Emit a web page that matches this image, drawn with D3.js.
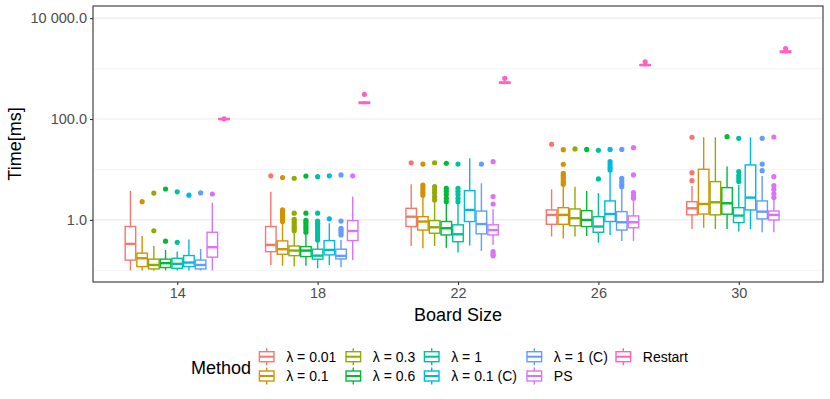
<!DOCTYPE html>
<html><head><meta charset="utf-8">
<script src="https://cdn.jsdelivr.net/npm/d3@7"></script>
<style>
body{margin:0;background:#fff;}
text{font-family:"Liberation Sans",Arial,Helvetica,sans-serif;}
</style></head>
<body><svg id="c" width="830" height="399"></svg>
<script>
// ---- data ----
const boardSizes = ["14","18","22","26","30"];
const methods = ["λ = 0.01","λ = 0.1","λ = 0.3","λ = 0.6","λ = 1","λ = 0.1 (C)","λ = 1 (C)","PS","Restart"];
const colors = ["#F8766D","#D39200","#93AA00","#00BA38","#00C19F","#00B9E3","#619CFF","#DB72FB","#FF61C3"];
const yTicks = [1, 100, 10000];
const yMinor = [0.1, 10, 1000];
// [lower whisker, q1, median, q3, upper whisker] per board size
const lam001 = [[0.10,0.16,0.335,0.74,3.75],[0.128,0.235,0.32,0.74,3.6],[0.305,0.74,1.16,1.7,5.1],[0.47,0.82,1.26,1.58,4.05],[0.66,1.26,1.7,2.3,4.7]];
const lam01 = [[0.1,0.119,0.174,0.22,0.48],[0.123,0.209,0.263,0.384,0.86],[0.275,0.63,0.93,1.16,2.9],[0.43,0.82,1.26,1.75,4.9],[0.7,1.31,2.07,10.1,43.5]];
const lam03 = [[0.1,0.107,0.128,0.167,0.305],[0.119,0.196,0.247,0.305,0.586],[0.305,0.545,0.716,0.97,2.3],[0.47,0.77,1.08,1.65,4.57],[0.66,1.26,2.24,5.75,43.5]];
const lam06 = [[0.1,0.114,0.139,0.167,0.255],[0.123,0.188,0.247,0.296,0.545],[0.28,0.505,0.684,0.93,2.14],[0.48,0.74,1.0,1.53,3.75],[0.66,1.3,2.14,4.37,11.4]];
const lam1 = [[0.1,0.11,0.135,0.174,0.236],[0.11,0.167,0.196,0.263,0.37],[0.225,0.37,0.52,0.8,2.14],[0.355,0.57,0.74,1.16,3.4],[0.59,0.885,1.22,1.75,4.9]];
const lam01C = [[0.1,0.119,0.143,0.197,0.41],[0.128,0.203,0.255,0.39,0.86],[0.31,0.93,1.58,3.8,16.7],[0.505,0.93,1.31,2.38,9.06],[0.66,1.58,2.77,12.3,43.5]];
const lam1C = [[0.1,0.107,0.128,0.16,0.267],[0.116,0.169,0.194,0.263,0.40],[0.243,0.53,0.83,1.5,5.3],[0.384,0.63,0.9,1.46,4.24],[0.57,1.05,1.46,2.38,7.4]];
const ps = [[0.1,0.183,0.288,0.57,2.2],[0.16,0.39,0.605,0.97,2.9],[0.32,0.505,0.63,0.8,1.63],[0.384,0.7,0.9,1.2,2.49],[0.57,1.0,1.26,1.5,2.49]];
const restart = [[95,98,100,102,106],[195,203,210,217,225],[490,510,525,540,560],[1100,1150,1175,1200,1250],[1950,2070,2150,2230,2350]];
// outliers per board size
const lam001Out = [[],[7.5],[13.6],[31.6],[6.0,8.65,43.5]];
const lam01Out = [[2.3],[0.93,1.0,1.1,1.2,1.3,1.45,1.58,6.9],[3.1,3.5,3.9,4.4,4.9,12.8],[5.1,5.6,6.2,6.9,7.6,8.4,12.7,24.7],[]];
const lam03Out = [[0.61,3.4],[0.61,0.68,0.75,0.83,0.92,1.03,1.36,6.7],[2.49,2.9,3.4,3.9,4.57,13.6],[25.5],[]];
const lam06Out = [[0.38,4.1],[0.57,0.64,0.72,0.8,0.9,0.98,1.36,7.4],[2.3,2.7,3.2,3.7,4.24,13.3],[25],[44.7]];
const lam1Out = [[0.36,3.6],[0.40,0.45,0.5,0.56,0.63,0.7,0.78,0.86,0.95,1.36,7.2],[2.3,2.7,3.2,3.7,4.24,12.8],[6.5,24],[5.75,6.6,7.6,9.06,41.5]];
const lam01COut = [[3.09],[1.05,7.5],[],[9.8,11,12.5,14.3,25],[]];
const lam1COut = [[3.43],[0.505,0.56,0.62,0.68,0.95,7.8],[12.8],[4.57,5.1,5.8,6.7,25],[9.46,12.8,41.5]];
const psOut = [[3.27],[7.5],[0.194,0.21,0.236,2.07,2.9,14.3],[2.7,3.0,3.5,7.8,27],[2.77,3.3,4.0,4.78,7.2,44]];
const restartOut = [[101],[309],[640],[1365],[2500]];

const stats = [lam001,lam01,lam03,lam06,lam1,lam01C,lam1C,ps,restart];
const outs = [lam001Out,lam01Out,lam03Out,lam06Out,lam1Out,lam01COut,lam1COut,psOut,restartOut];

// ---- layout ----
const svg = d3.select("#c");
const L = 93, R = 823, T = 6, B = 282;
const x = d3.scalePoint().domain(boardSizes).range([L, R]).padding(0.6);
const step = x.step();
const dodge = d3.scaleBand().domain(methods).range([-0.375*step, 0.375*step]);
const bw = dodge.bandwidth()*0.9;
const y = d3.scaleLog().domain([Math.pow(10,-1.23), Math.pow(10,4.24)]).range([B, T]);

// grid
svg.append("g").selectAll("line").data(yMinor).join("line")
  .attr("x1", L).attr("x2", R).attr("y1", d=>y(d)).attr("y2", d=>y(d))
  .attr("stroke", "#F2F2F2").attr("stroke-width", 0.8);
svg.append("g").selectAll("line").data(yTicks).join("line")
  .attr("x1", L).attr("x2", R).attr("y1", d=>y(d)).attr("y2", d=>y(d))
  .attr("stroke", "#EBEBEB").attr("stroke-width", 1.2);

// boxes
const fmtNum = d => d3.format(",.1f")(d).replace(/,/g, " ");
const SW = 1.4;
methods.forEach((m, i) => {
  const g = svg.append("g");
  const col = colors[i];
  boardSizes.forEach((s, j) => {
    const [lo, q1, med, q3, hi] = stats[i][j];
    const cx = x(s) + dodge(m) + dodge.bandwidth()/2;
    g.append("line").attr("x1", cx).attr("x2", cx).attr("y1", y(hi)).attr("y2", y(q3))
      .attr("stroke", col).attr("stroke-width", SW);
    g.append("line").attr("x1", cx).attr("x2", cx).attr("y1", y(q1)).attr("y2", y(lo))
      .attr("stroke", col).attr("stroke-width", SW);
    g.append("rect").attr("x", cx - bw/2).attr("width", bw)
      .attr("y", y(q3)).attr("height", Math.max(0.5, y(q1) - y(q3)))
      .attr("fill", "#fff").attr("stroke", col).attr("stroke-width", SW);
    g.append("line").attr("x1", cx - bw/2).attr("x2", cx + bw/2).attr("y1", y(med)).attr("y2", y(med))
      .attr("stroke", col).attr("stroke-width", 2.4);
    g.selectAll(null).data(outs[i][j]).join("circle")
      .attr("cx", cx).attr("cy", d => y(d)).attr("r", 2.6).attr("fill", col);
  });
});

// panel border
svg.append("rect").attr("x", L).attr("y", T).attr("width", R-L).attr("height", B-T)
  .attr("fill", "none").attr("stroke", "#333").attr("stroke-width", 1.1);

// axes
const yAxis = svg.append("g").attr("transform", `translate(${L},0)`)
  .call(d3.axisLeft(y).tickValues(yTicks).tickFormat(fmtNum).tickSize(3).tickPadding(3));
const xAxis = svg.append("g").attr("transform", `translate(0,${B})`)
  .call(d3.axisBottom(x).tickSize(3).tickPadding(3));
[yAxis, xAxis].forEach(a => {
  a.select(".domain").remove();
  a.selectAll(".tick line").attr("stroke", "#333").attr("stroke-width", 1.1);
  a.selectAll(".tick text").attr("fill", "#4D4D4D").style("font-size", "14.5px")
    .style("font-family", '"Liberation Sans",Arial,sans-serif');
});

// titles
svg.append("text").attr("x", (L+R)/2).attr("y", 321).attr("text-anchor", "middle")
  .style("font-size", "18px").attr("fill", "#000").text("Board Size");
svg.append("text").attr("transform", `translate(21,${(T+B)/2}) rotate(-90)`).attr("text-anchor", "middle")
  .style("font-size", "18px").attr("fill", "#000").text("Time[ms]");

// legend
svg.append("text").attr("x", 191).attr("y", 374).style("font-size", "18px").attr("fill", "#000").text("Method");
const colX = [266.7, 353.3, 431.7, 534.3, 623.3];
const rowY = [356.7, 376];
methods.forEach((m, i) => {
  const c = Math.floor(i/2), r = i % 2;
  const kx = colX[c], ky = rowY[r], col = colors[i];
  const k = svg.append("g");
  k.append("line").attr("x1", kx).attr("x2", kx).attr("y1", ky-8.5).attr("y2", ky+8.5)
    .attr("stroke", col).attr("stroke-width", SW);
  k.append("rect").attr("x", kx-7.3).attr("y", ky-5).attr("width", 14.6).attr("height", 10)
    .attr("fill", "#fff").attr("stroke", col).attr("stroke-width", SW);
  k.append("line").attr("x1", kx-7.3).attr("x2", kx+7.3).attr("y1", ky).attr("y2", ky)
    .attr("stroke", col).attr("stroke-width", 2);
  k.append("text").attr("x", kx + 19.5).attr("y", ky + 5).style("font-size", "14px")
    .attr("fill", "#000").text(m);
});
</script></body></html>
